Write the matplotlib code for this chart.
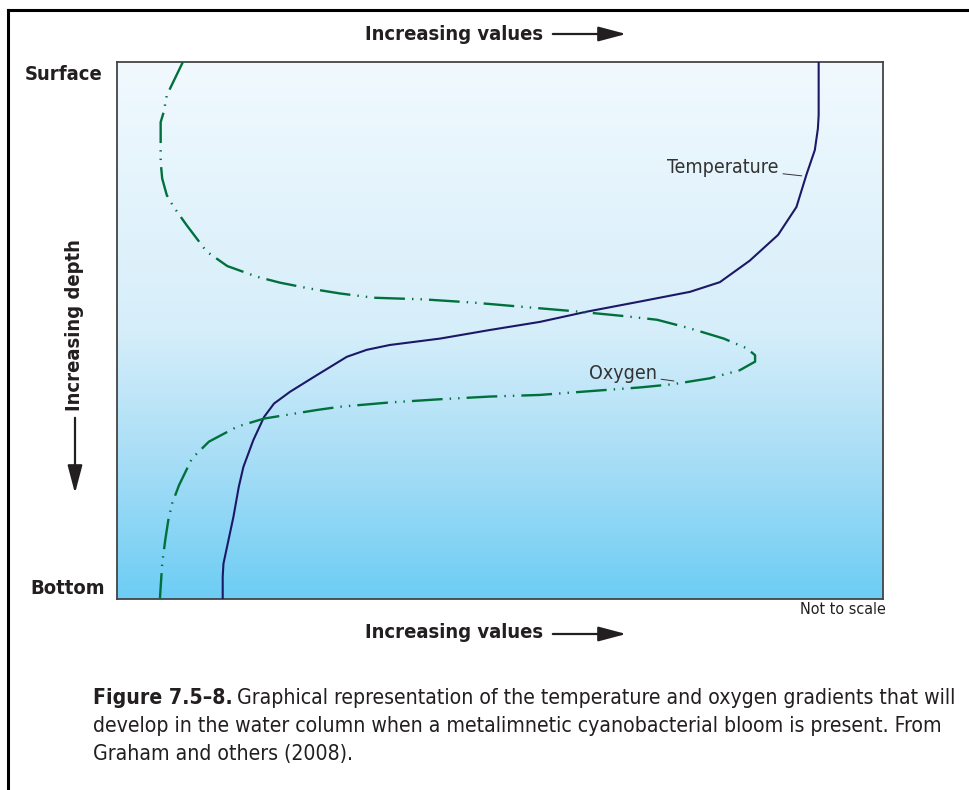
"""Temperature and oxygen profiles with a metalimnetic cyanobacterial bloom."""

import matplotlib
matplotlib.use("Agg")
import matplotlib.pyplot as plt
from matplotlib.colors import LinearSegmentedColormap
import numpy as np

plt.rcParams["font.family"] = ["DejaVu Sans"]
plt.rcParams["font.stretch"] = "condensed"

# relative value (0 = left edge, 100 = right edge) against depth (0 = surface, 100 = bottom)
temp_depth = [0, 9.9, 12.4, 16.4, 21.0, 27.0, 32.2, 37.0, 41.0, 42.2, 42.8,
              44.6, 46.5, 48.4, 49.9, 51.5, 52.7, 53.6, 54.9, 58.3, 61.4, 63.6,
              66.1, 70.4, 75.4, 79.1, 84.7, 93.4, 95.8, 100]
temp_value = [91.6, 91.6, 91.5, 91.1, 90.0, 88.7, 86.3, 82.6, 78.7, 76.1, 74.8,
              68.3, 61.3, 55.2, 48.7, 42.2, 35.6, 32.6, 30.0, 26.1, 22.6, 20.5,
              19.2, 17.8, 16.5, 15.9, 15.2, 13.9, 13.8, 13.8]

oxy_depth = [0, 6.2, 9.3, 11.2, 14.3, 18.6, 21.7, 24.8, 27.0, 30.4, 35.3, 38.0,
             40.0, 41.1, 42.2, 43.1, 43.9, 44.2, 44.8, 45.6, 46.4, 47.3, 48.0,
             49.6, 51.5, 53.3, 54.6, 55.8, 57.4, 58.9, 60.0, 60.6, 61.3, 62.0,
             62.3, 62.8, 63.4, 64.2, 64.8, 66.4, 67.9, 70.7, 73.8, 78.8, 82.2,
             85.3, 89.0, 93.4, 100]
oxy_value = [8.6, 6.5, 6.1, 5.7, 5.7, 5.7, 5.9, 6.5, 7.4, 9.1, 11.7, 14.4,
             18.3, 21.3, 25.2, 29.1, 33.5, 40.0, 46.5, 53.0, 59.6, 66.1, 70.5,
             74.8, 79.2, 82.2, 83.3, 83.3, 81.3, 77.4, 72.6, 68.3, 61.7, 55.2,
             48.7, 42.2, 35.6, 29.1, 26.1, 19.2, 15.7, 12.0, 9.8, 8.1, 7.2,
             6.7, 6.3, 5.9, 5.6]

W, H = 969, 790


def fx(px):
    return px / W


def fy(py):
    return 1 - py / H


fig = plt.figure(figsize=(W / 100, H / 100), dpi=100)

# outer frame (left and top edges only)
fig.add_artist(plt.Line2D([fx(8), fx(8)], [fy(790), fy(10)], color="black", lw=2.2))
fig.add_artist(plt.Line2D([fx(8), fx(969)], [fy(10), fy(10)], color="black", lw=2.2))

ax = fig.add_axes([fx(117), fy(599), (883 - 117) / W, (599 - 62) / H])
ax.set_xlim(0, 100)
ax.set_ylim(100, 0)

# water column shading, pale at the surface to blue at the bottom
water = LinearSegmentedColormap.from_list(
    "water",
    [(0.0, "#f1f9fe"), (0.5, "#d6eefa"), (0.75, "#a6ddf6"), (1.0, "#6dcdf4")],
)
grad = np.linspace(0, 1, 256).reshape(-1, 1)
ax.imshow(grad, cmap=water, extent=[0, 100, 100, 0], aspect="auto", zorder=0)

ax.plot(temp_value, temp_depth, color="#1c1866", lw=1.5, zorder=3,
        solid_joinstyle="round")
ax.plot(oxy_value, oxy_depth, color="#00703c", lw=1.7, zorder=3,
        linestyle=(0, (13, 3, 0.6, 3, 0.6, 3)))

ax.annotate("Temperature", xy=(89.4, 21.2), xytext=(86.4, 19.6), ha="right", va="center",
            fontsize=14, color="#333333",
            arrowprops=dict(arrowstyle="-", color="#333333", lw=0.7, shrinkA=1, shrinkB=0))
ax.annotate("Oxygen", xy=(72.7, 59.4), xytext=(70.5, 58.1), ha="right", va="center",
            fontsize=14, color="#333333",
            arrowprops=dict(arrowstyle="-", color="#333333", lw=0.7, shrinkA=1, shrinkB=0))

ax.set_xticks([])
ax.set_yticks([])
for spine in ax.spines.values():
    spine.set_color("#444444")
    spine.set_linewidth(1.3)

bold = dict(fontsize=14.5, fontweight="bold", color="#231f20")
fig.text(fx(102), fy(74), "Surface", ha="right", va="center", **bold)
fig.text(fx(105), fy(589), "Bottom", ha="right", va="center", **bold)
fig.text(fx(454), fy(34), "Increasing values", ha="center", va="center", **bold)
fig.text(fx(454), fy(633), "Increasing values", ha="center", va="center", **bold)
fig.text(fx(75), fy(325), "Increasing depth", ha="center", va="center", rotation=90, **bold)
fig.text(fx(886), fy(610), "Not to scale", ha="right", va="center", fontsize=11.5,
         color="#231f20")

arrow = dict(arrowstyle="-|>,head_length=1.7,head_width=0.45", color="#231f20", lw=1.6)
fig.add_artist(plt.Annotation("", xy=(fx(629), fy(34)), xytext=(fx(550), fy(34)),
                              xycoords="figure fraction", arrowprops=arrow))
fig.add_artist(plt.Annotation("", xy=(fx(629), fy(634)), xytext=(fx(550), fy(634)),
                              xycoords="figure fraction", arrowprops=arrow))
fig.add_artist(plt.Annotation("", xy=(fx(75), fy(496)), xytext=(fx(75), fy(415)),
                              xycoords="figure fraction", arrowprops=arrow))

# caption: bold figure number followed by regular text on the same line
cap_size = 15.2
head = fig.text(fx(93), fy(704), "Figure 7.5\u20138.", ha="left", va="baseline",
                fontsize=cap_size, fontweight="bold", color="#231f20")
fig.canvas.draw()
x_end = head.get_window_extent().x1 / W
fig.text(x_end + 4 / W, fy(704),
         "Graphical representation of the temperature and oxygen gradients that will",
         ha="left", va="baseline", fontsize=cap_size, color="#231f20")
fig.text(fx(93), fy(732),
         "develop in the water column when a metalimnetic cyanobacterial bloom is present. From",
         ha="left", va="baseline", fontsize=cap_size, color="#231f20")
fig.text(fx(93), fy(760), "Graham and others (2008).", ha="left", va="baseline",
         fontsize=cap_size, color="#231f20")

fig.savefig("out.png", dpi=100)
